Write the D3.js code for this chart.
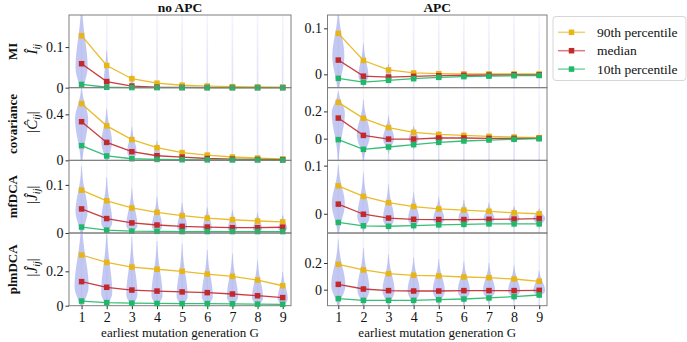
<!DOCTYPE html>
<html><head><meta charset="utf-8">
<script src="https://cdn.jsdelivr.net/npm/d3@7"></script>
<style>
body{margin:0;background:#fff}
svg{display:block}
svg text{font-family:"Liberation Serif","Times New Roman",serif !important;fill:#111}
</style>
</head><body>
<svg id="chart" width="687" height="342"></svg>
<script>
// ---------------- data ----------------
const generations = [1,2,3,4,5,6,7,8,9];
const methods = ["MI","covariance","mfDCA","plmDCA"];
const columnTitles = ["no APC","APC"];
const seriesNames = ["90th percentile","median","10th percentile"];
const xLabel = "earliest mutation generation G";

// no APC
const mi_noapc_p90  = [0.128,0.0546,0.022,0.011,0.006,0.004,0.0025,0.0018,0.0012];
const mi_noapc_med  = [0.059,0.015,0.004,0.0012,0.0005,0.0003,0.0002,0.0001,0.0001];
const mi_noapc_p10  = [0.008,0.001,0.0003,0.0001,0,0,0,0,0];
const cov_noapc_p90 = [0.493,0.300,0.180,0.110,0.067,0.046,0.029,0.020,0.012];
const cov_noapc_med = [0.336,0.156,0.075,0.040,0.028,0.016,0.011,0.008,0.006];
const cov_noapc_p10 = [0.128,0.038,0.014,0.008,0.005,0.004,0.003,0.003,0.002];
const mf_noapc_p90  = [0.089,0.067,0.052,0.043,0.036,0.031,0.0276,0.025,0.023];
const mf_noapc_med  = [0.050,0.030,0.021,0.0166,0.0138,0.0124,0.011,0.011,0.012];
const mf_noapc_p10  = [0.0124,0.006,0.004,0.0035,0.003,0.003,0.003,0.003,0.003];
const plm_noapc_p90 = [0.295,0.252,0.225,0.212,0.200,0.184,0.171,0.149,0.116];
const plm_noapc_med = [0.140,0.107,0.091,0.085,0.080,0.076,0.068,0.058,0.047];
const plm_noapc_p10 = [0.027,0.018,0.015,0.013,0.012,0.012,0.011,0.009,0.008];
// APC
const mi_apc_p90  = [0.089,0.030,0.0095,0.003,0.0015,0.001,0.001,0.001,0.001];
const mi_apc_med  = [0.031,-0.004,-0.006,-0.0044,-0.003,-0.002,-0.0015,-0.001,-0.001];
const mi_apc_p10  = [-0.0087,-0.017,-0.013,-0.0095,-0.0066,-0.005,-0.004,-0.003,-0.0025];
const cov_apc_p90 = [0.266,0.149,0.081,0.046,0.031,0.024,0.017,0.012,0.007];
const cov_apc_med = [0.151,0.024,-0.003,-0.003,0.005,0.005,0.002,0.002,0.002];
const cov_apc_p10 = [-0.007,-0.078,-0.061,-0.044,-0.027,-0.017,-0.010,-0.005,0.0];
const mf_apc_p90  = [0.058,0.036,0.023,0.015,0.010,0.0076,0.005,0.002,0.0];
const mf_apc_med  = [0.020,-0.001,-0.009,-0.0115,-0.012,-0.012,-0.0115,-0.011,-0.010];
const mf_apc_p10  = [-0.018,-0.025,-0.026,-0.0246,-0.023,-0.022,-0.021,-0.021,-0.021];
const plm_apc_p90 = [0.19,0.148,0.12,0.108,0.103,0.095,0.09,0.08,0.063];
const plm_apc_med = [0.04,0.005,-0.007,-0.01,-0.01,-0.007,-0.007,-0.007,-0.005];
const plm_apc_p10 = [-0.067,-0.08,-0.08,-0.08,-0.075,-0.07,-0.062,-0.052,-0.04];

// violin shapes: value of widest point, relative max half-width
const mi_noapc_vPeak  = [0.05,0.012,0.004,0.002,0.001,0.001,0.001,0.001,0.001];
const mi_noapc_vWidth = [0.48,0.24,0.14,0.10,0.08,0.06,0.06,0.06,0.06];
const cov_noapc_vPeak  = [0.36,0.16,0.075,0.042,0.028,0.016,0.011,0.008,0.006];
const cov_noapc_vWidth = [0.52,0.42,0.37,0.27,0.20,0.13,0.10,0.08,0.08];
const mf_noapc_vPeak  = [0.045,0.022,0.015,0.012,0.010,0.009,0.008,0.008,0.009];
const mf_noapc_vWidth = [0.48,0.44,0.44,0.40,0.40,0.36,0.36,0.36,0.36];
const plm_noapc_vPeak  = [0.11,0.075,0.065,0.06,0.055,0.055,0.05,0.045,0.04];
const plm_noapc_vWidth = [0.56,0.44,0.44,0.44,0.44,0.44,0.44,0.44,0.40];
const mi_apc_vPeak  = [0.04,-0.005,-0.006,-0.004,-0.003,-0.002,-0.0015,-0.001,-0.001];
const mi_apc_vWidth = [0.48,0.40,0.24,0.16,0.12,0.10,0.08,0.08,0.08];
const cov_apc_vPeak  = [0.19,0.03,0.0,0.0,0.005,0.005,0.003,0.002,0.002];
const cov_apc_vWidth = [0.52,0.52,0.44,0.40,0.36,0.28,0.24,0.20,0.20];
const mf_apc_vPeak  = [0.02,-0.008,-0.012,-0.012,-0.012,-0.012,-0.012,-0.011,-0.010];
const mf_apc_vWidth = [0.52,0.48,0.44,0.44,0.44,0.44,0.44,0.44,0.48];
const plm_apc_vPeak  = [0.03,0.0,-0.01,-0.01,-0.01,-0.01,-0.01,-0.01,-0.01];
const plm_apc_vWidth = [0.56,0.48,0.48,0.48,0.48,0.48,0.48,0.48,0.48];

// axis limits and ticks
const noapc_yDomains = [[0,0.179],[0,0.632],[0,0.151],[0,0.423]];
const apc_yDomains   = [[-0.029,0.129],[-0.159,0.374],[-0.040,0.111],[-0.12,0.425]];
const noapc_yTicks = [[0,0.1],[0,0.4],[0,0.1],[0,0.2]];
const apc_yTicks   = [[0,0.1],[0,0.2],[0,0.1],[0,0.2]];
const xDomains = [[0.5,9.33],[0.57,9.31]];

// ---------------- layout ----------------
const FONT = '"Liberation Serif","Times New Roman",serif';
const svg = d3.select("#chart");
const colors = ["#e8b514","#c3282b","#20b868"];
const violinFill = "#aab0ec";
const colRange = [[69,291],[327.5,547]];
const top0 = 15, rowH = 72.67;

const panels = [
  [ {p:[mi_noapc_p90,mi_noapc_med,mi_noapc_p10], vp:mi_noapc_vPeak, vw:mi_noapc_vWidth},
    {p:[cov_noapc_p90,cov_noapc_med,cov_noapc_p10], vp:cov_noapc_vPeak, vw:cov_noapc_vWidth},
    {p:[mf_noapc_p90,mf_noapc_med,mf_noapc_p10], vp:mf_noapc_vPeak, vw:mf_noapc_vWidth},
    {p:[plm_noapc_p90,plm_noapc_med,plm_noapc_p10], vp:plm_noapc_vPeak, vw:plm_noapc_vWidth} ],
  [ {p:[mi_apc_p90,mi_apc_med,mi_apc_p10], vp:mi_apc_vPeak, vw:mi_apc_vWidth},
    {p:[cov_apc_p90,cov_apc_med,cov_apc_p10], vp:cov_apc_vPeak, vw:cov_apc_vWidth},
    {p:[mf_apc_p90,mf_apc_med,mf_apc_p10], vp:mf_apc_vPeak, vw:mf_apc_vWidth},
    {p:[plm_apc_p90,plm_apc_med,plm_apc_p10], vp:plm_apc_vPeak, vw:plm_apc_vWidth} ]
];
const yDomains = [noapc_yDomains, apc_yDomains];
const yTicks = [noapc_yTicks, apc_yTicks];
const fmt = d3.format("~g");

const defs = svg.append("defs");
const grad = defs.append("linearGradient").attr("id", "tailGrad")
  .attr("x1", 0).attr("x2", 0).attr("y1", 0).attr("y2", 1);
grad.append("stop").attr("offset", "0%").attr("stop-color", violinFill).attr("stop-opacity", 0.12);
grad.append("stop").attr("offset", "100%").attr("stop-color", violinFill).attr("stop-opacity", 0.4);

panels.forEach((col, c) => {
  const x = d3.scaleLinear().domain(xDomains[c]).range(colRange[c]);
  const step = x(2) - x(1);
  col.forEach((pd, r) => {
    const yTop = top0 + r*rowH, yBot = top0 + (r+1)*rowH;
    const y = d3.scaleLinear().domain(yDomains[c][r]).range([yBot, yTop]);
    const id = `clip${c}${r}`;
    defs.append("clipPath").attr("id", id).append("rect")
      .attr("x", colRange[c][0]).attr("y", yTop)
      .attr("width", colRange[c][1]-colRange[c][0]).attr("height", rowH);
    const g = svg.append("g");
    const vg = g.append("g").attr("clip-path", `url(#${id})`);

    generations.forEach((gen, i) => {
      const cx = x(gen);
      vg.append("rect").attr("x", cx - 0.8).attr("width", 1.6).attr("y", yTop).attr("height", rowH)
        .attr("fill", "url(#tailGrad)");
      const peakPix = y(pd.vp[i]);
      const hw = pd.vw[i] * (step/2);
      const sUp = Math.max((peakPix - y(pd.p[0][i])) / 1.15, 1.5);
      const sLo = Math.max((y(pd.p[2][i]) - peakPix) / 1.3, 1.5);
      const pts = [];
      for (let yy = yTop - 2; yy <= yBot + 2; yy += 0.5) {
        const d = yy - peakPix;
        const s = d < 0 ? sUp : sLo;
        const w = hw * Math.exp(-0.5 * (d/s) * (d/s));
        if (w > 0.3) pts.push({y: yy, w: w});
      }
      if (pts.length) {
        vg.append("path")
          .attr("d", d3.area().y(p => p.y).x0(p => cx - p.w).x1(p => cx + p.w).curve(d3.curveBasis)(pts))
          .attr("fill", violinFill).attr("opacity", 0.7);
      }
    });

    g.append("rect").attr("x", colRange[c][0]).attr("y", yTop)
      .attr("width", colRange[c][1]-colRange[c][0]).attr("height", rowH)
      .attr("fill", "none").attr("stroke", "#7f7f7f").attr("stroke-width", 1);

    const ya = g.append("g").attr("transform", `translate(${colRange[c][0]},0)`)
      .call(d3.axisLeft(y).tickValues(yTicks[c][r]).tickSize(3.5).tickPadding(2).tickFormat(fmt));
    ya.attr("font-family", null).attr("font-size", null);
    ya.select(".domain").remove();
    ya.selectAll(".tick line").attr("stroke", "#333");
    ya.selectAll("text").style("font-family", FONT).style("font-size", "14px").attr("fill", "#111");

    if (r === 3) {
      const xa = g.append("g").attr("transform", `translate(0,${yBot})`)
        .call(d3.axisBottom(x).tickValues(generations).tickSize(3.5).tickPadding(2.5).tickFormat(d3.format("d")));
      xa.attr("font-family", null).attr("font-size", null);
      xa.select(".domain").remove();
      xa.selectAll(".tick line").attr("stroke", "#333");
      xa.selectAll("text").style("font-family", FONT).style("font-size", "14px").attr("fill", "#111");
    }

    pd.p.forEach((vals, s) => {
      const data = generations.map((gen, i) => ({gen, v: vals[i]}));
      g.append("path").datum(data)
        .attr("d", d3.line().x(d => x(d.gen)).y(d => y(d.v)))
        .attr("fill", "none").attr("stroke", colors[s]).attr("stroke-width", 1.3).attr("opacity", 0.9);
      g.selectAll(null).data(data).enter().append("rect")
        .attr("x", d => x(d.gen) - 2.75).attr("y", d => y(d.v) - 2.75)
        .attr("width", 5.5).attr("height", 5.5).attr("fill", colors[s]);
    });
  });

  svg.append("text").attr("x", (colRange[c][0]+colRange[c][1])/2).attr("y", 12)
    .attr("text-anchor", "middle").attr("font-weight", "bold").style("font-size", "13.5px")
    .text(columnTitles[c]);
  svg.append("text").attr("x", (colRange[c][0]+colRange[c][1])/2).attr("y", 337)
    .attr("text-anchor", "middle").style("font-size", "13px").text(xLabel);
});

const mathLetters = ["Î","Ĉ","Ĵ","Ĵ"];
const mathBars = [false,true,true,true];
methods.forEach((m, r) => {
  const cy = top0 + (r+0.5)*rowH;
  svg.append("text").attr("transform", `translate(16.5,${cy}) rotate(-90)`)
    .attr("text-anchor", "middle").attr("font-weight", "bold").style("font-size", "13px").text(m);
  const t = svg.append("text").attr("transform", `translate(37,${cy - 2}) rotate(-90)`)
    .attr("text-anchor", "middle").style("font-size", "15px");
  if (mathBars[r]) t.append("tspan").text("|");
  t.append("tspan").attr("font-style", "italic").text(mathLetters[r]);
  t.append("tspan").attr("font-style", "italic").style("font-size", "10px").attr("dy", 3).text("ij");
  if (mathBars[r]) t.append("tspan").attr("dy", -3).text("|");
});

const lg = svg.append("g");
lg.append("rect").attr("x", 553).attr("y", 16.5).attr("width", 133).attr("height", 64)
  .attr("rx", 3).attr("fill", "#fff").attr("fill-opacity", 0.85)
  .attr("stroke", "#d6d6d6").attr("stroke-width", 1);
seriesNames.forEach((name, s) => {
  const yy = 32.3 + s*18.4;
  lg.append("line").attr("x1", 558).attr("x2", 585).attr("y1", yy).attr("y2", yy)
    .attr("stroke", colors[s]).attr("stroke-width", 1.5).attr("opacity", 0.6);
  lg.append("rect").attr("x", 571.5-2.75).attr("y", yy-2.75).attr("width", 5.5).attr("height", 5.5)
    .attr("fill", colors[s]);
  lg.append("text").attr("x", 597).attr("y", yy).attr("dy", "0.33em").style("font-size", "13.5px").text(name);
});
</script>
</body></html>
